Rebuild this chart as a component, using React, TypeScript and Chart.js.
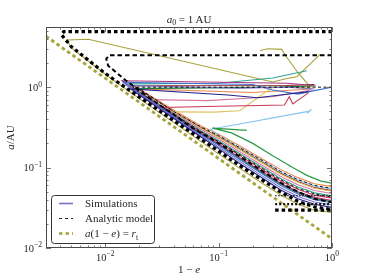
import React, { useEffect, useRef } from "react";
import { Chart, registerables } from "chart.js";

Chart.register(...registerables);

// ---------- axis limits & ticks ----------
const X_MIN = 0.003;
const X_MAX = 1;
const Y_MIN = 0.01;
const Y_MAX = 5.6;
const xMajorExp = [-2, -1, 0];
const yMajorExp = [-2, -1, 0];

// ---------- a(1-e) = r_t ----------
const rtX = [0.003, 1];
const rtY = [4.3, 0.013];

// ---------- thick black boundaries ----------
const bound1X = [1, 0.0043, 0.0041, 0.005, 0.007, 0.01, 0.02, 0.04, 0.07, 0.1, 0.15, 0.25, 0.35, 0.5, 0.7, 1];
const bound1Y = [4.9, 4.9, 4.5, 3.2, 2.2, 1.48, 0.75, 0.385, 0.225, 0.16, 0.108, 0.068, 0.05, 0.038, 0.0325, 0.03];
const bound1BaseX = [0.315, 1];
const bound1BaseY = [0.0296, 0.0296];

const bound2X = [1, 0.0108, 0.0102, 0.0106, 0.0151, 0.025, 0.04, 0.055, 0.09, 0.15, 0.25, 0.35, 0.5, 0.7, 1];
const bound2Y = [2.5, 2.5, 2.25, 1.85, 1.22, 0.72, 0.46, 0.33, 0.22, 0.14, 0.088, 0.065, 0.05, 0.041, 0.037];
const bound2BaseX = [0.315, 1];
const bound2BaseY = [0.0352, 0.0352];
const bound3BaseX = [0.315, 1];
const bound3BaseY = [0.0447, 0.0447];

// ---------- analytic model (thin dashed) ----------
const model1X = [1, 0.0175, 0.02, 0.04, 0.07, 0.1, 0.15, 0.25, 0.35, 0.5, 0.7, 1];
const model1Y = [1.0, 1.0, 0.87, 0.46, 0.28, 0.21, 0.148, 0.095, 0.071, 0.055, 0.047, 0.043];
const model2X = [0.019, 0.04, 0.07, 0.1, 0.15, 0.25, 0.35, 0.5, 0.7, 1];
const model2Y = [1.0, 0.5, 0.32, 0.25, 0.18, 0.12, 0.09, 0.071, 0.06, 0.055];

// ---------- simulations ----------
const simNavyX = [0.62, 0.35, 0.22, 0.12, 0.0168, 0.02, 0.04, 0.07, 0.1, 0.15, 0.25, 0.35, 0.5, 0.7, 1];
const simNavyY = [0.88, 0.8, 0.74, 0.8, 0.95, 0.8, 0.41, 0.24, 0.172, 0.115, 0.072, 0.053, 0.041, 0.035, 0.032];
const simPurpleX = [0.7, 0.4, 0.15, 0.0155, 0.02, 0.04, 0.07, 0.1, 0.15, 0.25, 0.35, 0.5, 0.7, 1];
const simPurpleY = [0.95, 1.0, 0.97, 1.05, 0.815, 0.421, 0.249, 0.18, 0.122, 0.0766, 0.0566, 0.0438, 0.0374, 0.0342];
const simBlueX = [1, 0.68, 0.5, 0.3, 0.2, 0.0144, 0.02, 0.04, 0.07, 0.1, 0.15, 0.25, 0.35, 0.5, 0.7, 1];
const simBlueY = [1.0, 0.9, 0.82, 0.92, 1.08, 1.15, 0.831, 0.432, 0.258, 0.189, 0.129, 0.0814, 0.0603, 0.0469, 0.0399, 0.0365];
const simMagentaX = [0.68, 0.4, 0.0141, 0.02, 0.04, 0.07, 0.1, 0.15, 0.25, 0.35, 0.5, 0.7, 1];
const simMagentaY = [1.05, 1.12, 1.2, 0.847, 0.444, 0.267, 0.197, 0.136, 0.0866, 0.0644, 0.0501, 0.0426, 0.039];
const simDarkGreenX = [0.72, 0.35, 0.0175, 0.02, 0.04, 0.07, 0.1, 0.15, 0.25, 0.35, 0.5, 0.7, 1];
const simDarkGreenY = [1.04, 1.0, 0.96, 0.84, 0.438, 0.262, 0.193, 0.132, 0.084, 0.0623, 0.0485, 0.0412, 0.0377];
const simCrimsonX = [0.62, 0.45, 0.42, 0.38, 0.1, 0.032, 0.04, 0.07, 0.1, 0.15, 0.25, 0.35, 0.5, 0.7, 1];
const simCrimsonY = [0.85, 0.62, 0.76, 0.6, 0.58, 0.56, 0.456, 0.276, 0.207, 0.144, 0.092, 0.0687, 0.0536, 0.0454, 0.0417];
const simTealX = [0.6, 0.3, 0.1, 0.016, 0.02, 0.04, 0.07, 0.1, 0.15, 0.25, 0.35, 0.5, 0.7, 1];
const simTealY = [1.6, 1.3, 1.12, 1.1, 0.88, 0.468, 0.286, 0.216, 0.152, 0.0979, 0.0733, 0.0573, 0.0485, 0.0445];
const simPinkX = [0.66, 0.3, 0.08, 0.025, 0.04, 0.07, 0.1, 0.15, 0.25, 0.35, 0.5, 0.7, 1];
const simPinkY = [0.92, 0.76, 0.68, 0.7, 0.48, 0.297, 0.227, 0.161, 0.104, 0.0782, 0.0613, 0.0518, 0.0476];
const simYellowX = [0.66, 0.3, 0.153, 0.092, 0.04, 0.07, 0.1, 0.15, 0.25, 0.35, 0.5, 0.7, 1];
const simYellowY = [1.0, 1.0, 0.51, 0.49, 0.493, 0.307, 0.237, 0.17, 0.111, 0.0834, 0.0656, 0.0553, 0.0508];
const simDarkRedX = [0.7, 0.4, 0.0178, 0.02, 0.04, 0.07, 0.1, 0.15, 0.25, 0.35, 0.5, 0.7, 1];
const simDarkRedY = [1.08, 1.05, 1.04, 0.925, 0.5, 0.312, 0.241, 0.173, 0.113, 0.085, 0.067, 0.0563, 0.0517];
const simLightBlueX = [0.6, 0.66, 0.62, 0.085, 0.1, 0.15, 0.25, 0.35, 0.5, 0.7, 1];
const simLightBlueY = [0.47, 0.53, 0.5, 0.3, 0.248, 0.18, 0.118, 0.089, 0.0701, 0.059, 0.0543];
const simOrangeX = [0.66, 0.2, 0.02, 0.04, 0.07, 0.1, 0.15, 0.25, 0.35, 0.5, 0.7, 1];
const simOrangeY = [0.95, 0.86, 0.95, 0.52, 0.33, 0.26, 0.19, 0.125, 0.095, 0.075, 0.063, 0.058];
const simGreenX = [0.177, 0.0885, 0.13, 0.2, 0.3, 0.45, 0.6, 0.8, 1];
const simGreenY = [0.29, 0.31, 0.27, 0.2, 0.14, 0.1, 0.08, 0.068, 0.064];
const simOliveX = [0.79, 0.49, 0.4, 0.3, 0.0071, 0.0046, 0.005, 0.01, 0.02, 0.04, 0.07, 0.1, 0.15, 0.25, 0.35, 0.5, 0.7, 1];
const simOliveY = [2.58, 1.35, 1.28, 1.16, 3.95, 3.87, 3.1, 1.45, 0.72, 0.365, 0.21, 0.148, 0.1, 0.062, 0.046, 0.035, 0.0295, 0.0276];
const simOliveTopX = [0.231, 0.27, 0.36, 0.386, 0.507, 0.644];
const simOliveTopY = [2.84, 3.0, 2.95, 2.51, 1.48, 1.01];

const legendLabels = ["Simulations", "Analytic model", "a(1 − e) = r_t"];

// ---------- styles ----------
const OLIVE = "#a5a33a";
const FONT = '"Liberation Serif", "DejaVu Serif", serif';
const TEXT = "#262626";

const pts = (xs: number[], ys: number[]) => xs.map((x, i) => ({ x, y: ys[i] }));

const line = (xs: number[], ys: number[], color: string, width: number, dash: number[] = []) => ({
  data: pts(xs, ys),
  showLine: true,
  borderColor: color,
  backgroundColor: color,
  borderWidth: width,
  borderDash: dash,
  pointRadius: 0,
  pointHoverRadius: 0,
  fill: false,
  tension: 0,
});

type Seg = { t: string; i?: boolean; sub?: boolean; sup?: boolean };

function drawRich(ctx: CanvasRenderingContext2D, segs: Seg[], x: number, y: number, size: number, align: "left" | "center" | "right") {
  const fontOf = (s: Seg) => `${s.i ? "italic " : ""}${s.sub || s.sup ? size * 0.72 : size}px ${FONT}`;
  const widths = segs.map((s) => {
    ctx.font = fontOf(s);
    return ctx.measureText(s.t).width;
  });
  const total = widths.reduce((a, b) => a + b, 0);
  let cx = align === "left" ? x : align === "center" ? x - total / 2 : x - total;
  ctx.textAlign = "left";
  ctx.textBaseline = "alphabetic";
  segs.forEach((s, k) => {
    ctx.font = fontOf(s);
    const dy = s.sub ? size * 0.22 : s.sup ? -size * 0.42 : 0;
    ctx.fillText(s.t, cx, y + dy);
    cx += widths[k];
  });
}

const expLabel = (n: number): Seg[] => [{ t: "10" }, { t: n < 0 ? "−" + Math.abs(n) : String(n), sup: true }];

const deco = {
  id: "deco",
  afterDatasetsDraw(chart: any) {
    const { ctx, chartArea } = chart;
    const { left, right, top, bottom } = chartArea;
    const xs = chart.scales.x;
    const ys = chart.scales.y;
    ctx.save();

    // frame
    ctx.strokeStyle = "#4a4a4a";
    ctx.lineWidth = 1;
    ctx.strokeRect(left + 0.5, top + 0.5, right - left - 1, bottom - top - 1);

    // ticks (inward, all four sides)
    ctx.strokeStyle = "#555";
    ctx.lineWidth = 0.8;
    ctx.beginPath();
    for (let n = -3; n <= 0; n++) {
      for (let k = 1; k <= 9; k++) {
        const v = k * Math.pow(10, n);
        if (v >= X_MIN * 0.999 && v <= X_MAX * 1.001) {
          const px = Math.round(xs.getPixelForValue(v)) + 0.5;
          const len = k === 1 ? 5 : 2.5;
          ctx.moveTo(px, bottom);
          ctx.lineTo(px, bottom - len);
          ctx.moveTo(px, top);
          ctx.lineTo(px, top + len);
        }
        if (v >= Y_MIN * 0.999 && v <= Y_MAX) {
          const py = Math.round(ys.getPixelForValue(v)) + 0.5;
          const len = k === 1 ? 5 : 2.5;
          ctx.moveTo(left, py);
          ctx.lineTo(left + len, py);
          ctx.moveTo(right, py);
          ctx.lineTo(right - len, py);
        }
      }
    }
    ctx.stroke();

    // tick labels
    ctx.fillStyle = TEXT;
    yMajorExp.forEach((n) => {
      const py = ys.getPixelForValue(Math.pow(10, n));
      drawRich(ctx, expLabel(n), left - 4, py + 3.8, 10.5, "right");
    });
    xMajorExp.forEach((n) => {
      const px = xs.getPixelForValue(Math.pow(10, n));
      drawRich(ctx, expLabel(n), px, bottom + 12.5, 10.5, "center");
    });

    // axis labels
    drawRich(ctx, [{ t: "1 − " }, { t: "e", i: true }], (left + right) / 2, 273, 11, "center");
    ctx.save();
    ctx.translate(14, (top + bottom) / 2);
    ctx.rotate(-Math.PI / 2);
    drawRich(ctx, [{ t: "a", i: true }, { t: "/AU" }], 0, 0, 11, "center");
    ctx.restore();

    // title
    drawRich(ctx, [{ t: "a", i: true }, { t: "0", sub: true }, { t: " = 1\u2009AU" }], (left + right) / 2, 22.5, 11, "center");

    // legend
    const lx = 51.5, ly = 195.5, lw = 103, lh = 48;
    ctx.beginPath();
    (ctx as any).roundRect ? (ctx as any).roundRect(lx, ly, lw, lh, 3) : ctx.rect(lx, ly, lw, lh);
    ctx.fillStyle = "rgba(255,255,255,0.9)";
    ctx.fill();
    ctx.strokeStyle = "#333";
    ctx.lineWidth = 1;
    ctx.stroke();

    const rows = [203.5, 218.5, 233.5];
    // sample lines
    ctx.lineCap = "butt";
    ctx.setLineDash([]);
    ctx.strokeStyle = "#7b72c6";
    ctx.lineWidth = 1.6;
    ctx.beginPath();
    ctx.moveTo(59, rows[0]);
    ctx.lineTo(73, rows[0]);
    ctx.stroke();
    ctx.strokeStyle = "#222";
    ctx.lineWidth = 1;
    ctx.setLineDash([3, 3]);
    ctx.beginPath();
    ctx.moveTo(59, rows[1]);
    ctx.lineTo(73, rows[1]);
    ctx.stroke();
    ctx.strokeStyle = OLIVE;
    ctx.lineWidth = 2.5;
    ctx.setLineDash([3.5, 3]);
    ctx.beginPath();
    ctx.moveTo(59, rows[2]);
    ctx.lineTo(73, rows[2]);
    ctx.stroke();
    ctx.setLineDash([]);

    ctx.fillStyle = TEXT;
    drawRich(ctx, [{ t: legendLabels[0] }], 85, rows[0] + 3.8, 11, "left");
    drawRich(ctx, [{ t: legendLabels[1] }], 85, rows[1] + 3.8, 11, "left");
    drawRich(
      ctx,
      [{ t: "a", i: true }, { t: "(1 − " }, { t: "e", i: true }, { t: ") = " }, { t: "r", i: true }, { t: "t", sub: true }],
      85,
      rows[2] + 3.8,
      11,
      "left"
    );

    ctx.restore();
  },
};

export default function App() {
  const ref = useRef<HTMLCanvasElement>(null);

  useEffect(() => {
    document.body.style.margin = "0";
    const canvas = ref.current;
    if (!canvas) return;

    // first dataset is drawn on top
    const datasets: any[] = [
      line(bound1X, bound1Y, "#000000", 3.2, [3.5, 3]),
      line(bound1BaseX, bound1BaseY, "#000000", 3.2, [3.5, 3]),
      line(bound2X, bound2Y, "#000000", 2, [4.5, 3]),
      line(bound2BaseX, bound2BaseY, "#111111", 2.2, [2, 2]),
      line(bound3BaseX, bound3BaseY, "#222222", 1.2, [1.5, 1.5]),
      line(model1X, model1Y, "#111111", 1, [3, 2.5]),
      line(model2X, model2Y, "#111111", 1, [3, 2.5]),
      line(rtX, rtY, OLIVE, 2.8, [3.5, 3]),
      line(simGreenX, simGreenY, "#2a9a45", 1.2),
      line(simNavyX, simNavyY, "#24248c", 1.1),
      line(simPurpleX, simPurpleY, "#7b72c6", 1.1),
      line(simBlueX, simBlueY, "#3d6fd4", 1.1),
      line(simMagentaX, simMagentaY, "#a8347f", 1.1),
      line(simDarkGreenX, simDarkGreenY, "#1d7a3a", 1.1),
      line(simCrimsonX, simCrimsonY, "#c93a5c", 1.1),
      line(simTealX, simTealY, "#33a393", 1.1),
      line(simPinkX, simPinkY, "#d87aa3", 1.1),
      line(simYellowX, simYellowY, "#e0c35c", 1.1),
      line(simDarkRedX, simDarkRedY, "#8a1f22", 1.1),
      line(simLightBlueX, simLightBlueY, "#84c5ec", 1.1),
      line(simOrangeX, simOrangeY, "#e88a52", 1.1),
      line(simOliveX, simOliveY, "#a7a23a", 1.1),
      line(simOliveTopX, simOliveTopY, "#a7a23a", 1.1),
    ];

    const chart = new Chart(canvas, {
      type: "scatter",
      data: { datasets },
      options: {
        responsive: false,
        animation: false,
        devicePixelRatio: 1,
        layout: { padding: { left: 46, top: 27, right: 36, bottom: 28 } },
        plugins: {
          legend: { display: false },
          tooltip: { enabled: false },
          title: { display: false },
        },
        events: [],
        scales: {
          x: { type: "logarithmic", min: X_MIN, max: X_MAX, display: false },
          y: { type: "logarithmic", min: Y_MIN, max: Y_MAX, display: false },
        },
      },
      plugins: [deco],
    } as any);

    return () => chart.destroy();
  }, []);

  return (
    <div style={{ width: 368, height: 276, background: "#fff" }}>
      <canvas ref={ref} width={368} height={276} style={{ display: "block" }} />
    </div>
  );
}
